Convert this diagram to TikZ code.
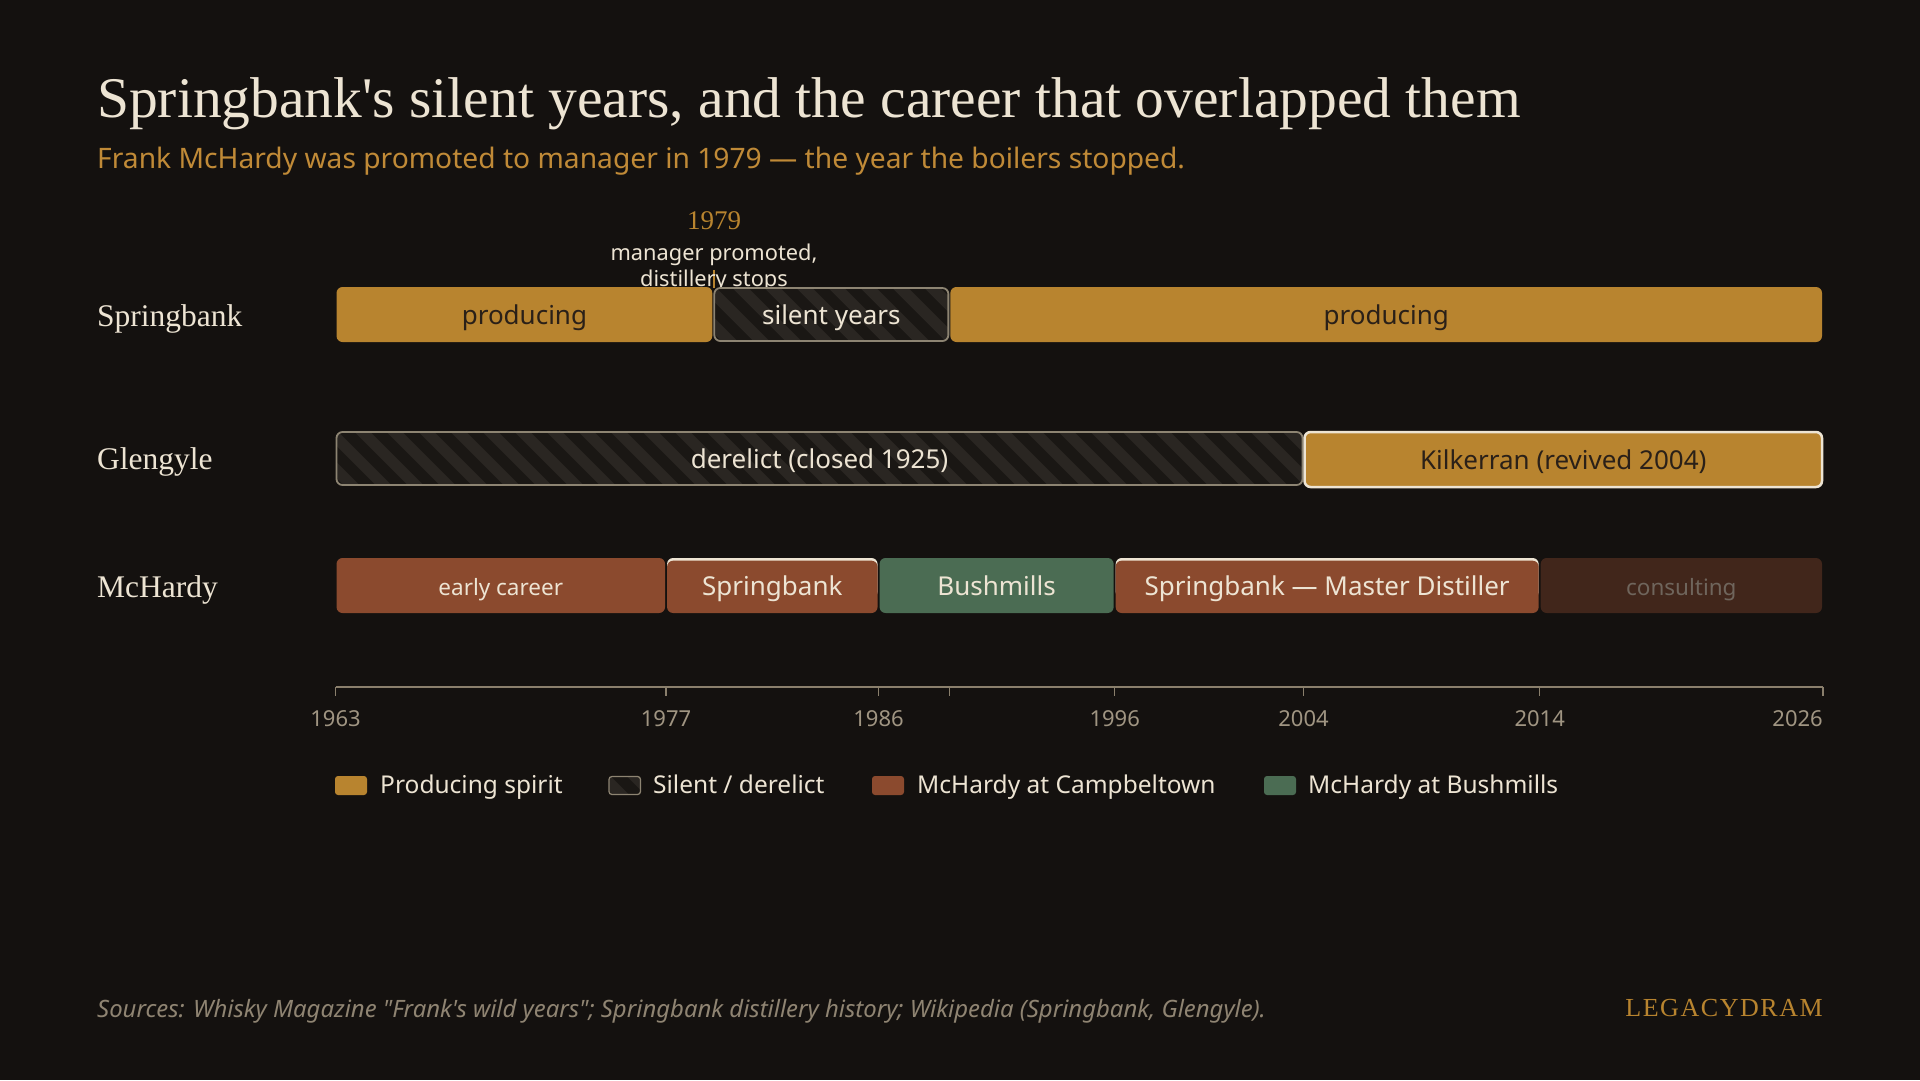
\documentclass[tikz,border=0pt]{standalone}
\usepackage{fontspec}
\setmainfont{Liberation Serif}[Ligatures=TeXOff]
\setsansfont{Noto Sans}[Ligatures=TeXOff]
\newfontfamily\logofont[LetterSpace=6]{Liberation Serif}
\usetikzlibrary{calc}
\definecolor{bg}{HTML}{14110F}
\definecolor{gold}{HTML}{B8842F}
\definecolor{darktext}{HTML}{2A2018}
\definecolor{cream}{HTML}{EDE4D3}
\definecolor{rust}{HTML}{8B4A2E}
\definecolor{moss}{HTML}{4B6C53}
\definecolor{consultfill}{HTML}{41261B}
\definecolor{consulttext}{HTML}{6F655C}
\definecolor{hatchbase}{HTML}{1A1714}
\definecolor{hatchstripe}{HTML}{2A2622}
\definecolor{hatchborder}{HTML}{8D8472}
\definecolor{axiscol}{HTML}{8A7F6C}
\definecolor{axislabel}{HTML}{A09582}
\definecolor{subgold}{HTML}{C08A37}
\definecolor{footcol}{HTML}{8F8472}
\newcommand\fsz[1]{\fontsize{#1}{#1}\selectfont}
\tikzset{
  barlabel/.style={anchor=base, inner sep=0pt, font=\sffamily\fsz{26}},
  smalllabel/.style={anchor=base, inner sep=0pt, font=\sffamily\fsz{22.5}},
  rowlabel/.style={anchor=base west, inner sep=0pt, text=cream, font=\rmfamily\fsz{31.5}},
  axlabel/.style={anchor=base, inner sep=0pt, text=axislabel, font=\sffamily\fsz{22}},
  leglabel/.style={anchor=base west, inner sep=0pt, text=cream, font=\sffamily\fsz{24.5}},
  tickline/.style={draw=axiscol, line width=1.5pt},
}
% #1 name, #2 top, #3 start year, #4 end year, #5 fill style, #6 label style, #7 text
\newcommand\segm[7]{%
  \pgfmathsetmacro\xa{335.5+23.611*(#3-1963)+1}%
  \pgfmathsetmacro\xb{335.5+23.611*(#4-1963)-1}%
  \pgfmathsetmacro\xm{(\xa+\xb)/2}%
  \path[rounded corners=6pt,#5] (\xa,#2) rectangle (\xb,#2+55);
  \node[#6] (#1) at (\xm,#2+37) {#7};
}
% same, with a cream highlight along the top edge
\newcommand\segmtop[7]{%
  \pgfmathsetmacro\xa{335.5+23.611*(#3-1963)+1}%
  \pgfmathsetmacro\xb{335.5+23.611*(#4-1963)-1}%
  \pgfmathsetmacro\xm{(\xa+\xb)/2}%
  \fill[rounded corners=6pt,cream] (\xa,#2) rectangle (\xb,#2+40);
  \path[rounded corners=6pt,#5] (\xa,#2+2.7) rectangle (\xb,#2+55);
  \node[#6] (#1) at (\xm,#2+37) {#7};
}
% hatched block: #1 x1, #2 y1, #3 x2, #4 y2, #5 border style
\newcommand\hatchblock[5]{%
  \begin{scope}
    \clip[rounded corners=6pt] (#1,#2) rectangle (#3,#4);
    \fill[hatchbase] (#1,#2) rectangle (#3,#4);
    \pgfmathsetmacro\hs{#1-80}%
    \pgfmathsetmacro\hsb{#1-48}%
    \foreach \s in {\hs,\hsb,...,#3}{
      \draw[hatchstripe, line width=11.3pt] (\s,#2-10) -- ++(80,80);
    }
  \end{scope}
  \draw[rounded corners=6pt,#5] (#1,#2) rectangle (#3,#4);
}
\begin{document}
\begin{tikzpicture}[x=1pt,y=-1pt]
\fill[bg] (0,0) rectangle (1920,1080);
\useasboundingbox (0,0) rectangle (1920,1080);

% titles
\node[anchor=base west, inner sep=0pt, text=cream, font=\rmfamily\fsz{57.5}] (title) at (97,117)
  {Springbank's silent years, and the career that overlapped them};
\node[anchor=base west, inner sep=0pt, text=subgold, font=\sffamily\fsz{28.2}] (subtitle) at (97,168)
  {Frank McHardy was promoted to manager in 1979 — the year the boilers stopped.};

% row labels
\node[rowlabel] (rowsb) at (97,326) {Springbank};
\node[rowlabel] (rowgl) at (97,469) {Glengyle};
\node[rowlabel] (rowmc) at (97,597) {McHardy};

% annotation 1979
\draw[gold, line width=2pt] (714,270) -- (714,288);
\node[anchor=base, inner sep=0pt, text=gold, font=\rmfamily\fsz{27}] (ann1979) at (714,229) {1979};
\node[anchor=base, inner sep=0pt, text=cream, font=\sffamily\fsz{21.8}] (annA) at (714,260) {manager promoted,};
\node[anchor=base, inner sep=0pt, text=cream, font=\sffamily\fsz{21.8}] (annB) at (714,286) {distillery stops};

% Springbank row
\segm{sbA}{287}{1963}{1979}{fill=gold}{barlabel,text=darktext}{producing}
\pgfmathsetmacro\ha{335.5+23.611*16+1}\pgfmathsetmacro\hb{335.5+23.611*26-1}
\hatchblock{\ha}{288}{\hb}{341}{draw=hatchborder, line width=1.8pt}
\node[barlabel, text=cream] (sbB) at ({(\ha+\hb)/2},324) {silent years};
\segm{sbC}{287}{1989}{2026}{fill=gold}{barlabel,text=darktext}{producing}

% Glengyle row
\pgfmathsetmacro\ga{335.5+1}\pgfmathsetmacro\gb{335.5+23.611*41-1}
\hatchblock{\ga}{432}{\gb}{485}{draw=hatchborder, line width=1.8pt}
\node[barlabel, text=cream] (glA) at ({(\ga+\gb)/2},468) {derelict (closed 1925)};
\segm{glB}{432}{2004}{2026}{fill=gold, draw=cream, line width=2.5pt}{barlabel,text=darktext}{Kilkerran (revived 2004)}

% McHardy row
\segm{mcA}{558}{1963}{1977}{fill=rust}{smalllabel,text=cream}{early career}
\segmtop{mcB}{558}{1977}{1986}{fill=rust}{barlabel,text=cream}{Springbank}
\segm{mcC}{558}{1986}{1996}{fill=moss}{barlabel,text=cream}{Bushmills}
\segmtop{mcD}{558}{1996}{2014}{fill=rust}{barlabel,text=cream}{Springbank — Master Distiller}
\segm{mcE}{558}{2014}{2026}{fill=consultfill}{smalllabel,text=consulttext}{consulting}

% axis
\coordinate (axL) at (335.5,687);
\coordinate (axR) at (1823,687);
\draw[axiscol, line width=1.5pt] (axL) -- (axR);
\foreach \yr in {1963,1977,1986,1989,1996,2004,2014,2026}{
  \pgfmathsetmacro\tx{335.5+23.611*(\yr-1963)}
  \coordinate (tk\yr) at (\tx,687);
  \draw[tickline] (tk\yr) -- ++(0,9);
}
\foreach \yr in {1963,1977,1986,1996,2004,2014}{
  \node[axlabel] (lb\yr) at ($(tk\yr)+(0,39)$) {\yr};
}
\node[axlabel, anchor=base east] (lb2026) at ($(tk2026)+(0,39)$) {2026};

% legend
\fill[gold, rounded corners=3pt] (335,776) rectangle (367,795);
\node[leglabel] (lg1) at (380,793) {Producing spirit};
\hatchblock{609}{776.5}{640.5}{794.5}{draw=hatchborder, line width=1.3pt, rounded corners=3pt}
\node[leglabel] (lg2) at (653,793) {Silent / derelict};
\fill[rust, rounded corners=3pt] (872,776) rectangle (904,795);
\node[leglabel] (lg3) at (917,793) {McHardy at Campbeltown};
\fill[moss, rounded corners=3pt] (1264,776) rectangle (1296,795);
\node[leglabel] (lg4) at (1308,793) {McHardy at Bushmills};

% footer
\node[anchor=base west, inner sep=0pt, text=footcol, font=\sffamily\itshape\fsz{23.9}] (src) at (97,1017)
  {Sources: Whisky Magazine "Frank's wild years"; Springbank distillery history; Wikipedia (Springbank, Glengyle).};
\node[anchor=base east, inner sep=0pt, text=gold, font=\logofont\fsz{26}] (logo) at (1823,1016) {LEGACYDRAM};
\end{tikzpicture}
\end{document}
